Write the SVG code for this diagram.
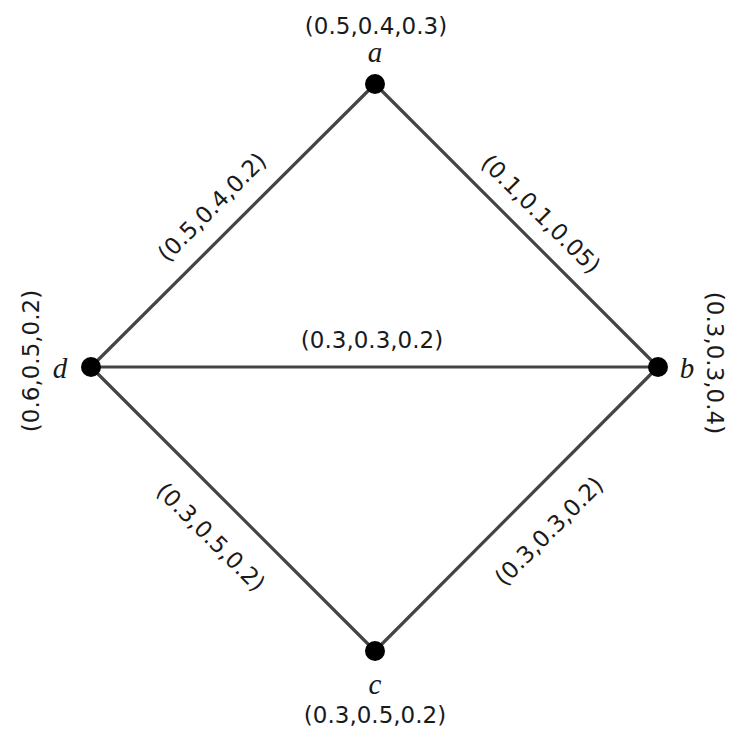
<svg xmlns="http://www.w3.org/2000/svg" width="729" height="731" viewBox="0 0 729 731">
<style>
.e{stroke:#444;stroke-width:3.2;fill:none}
.n{fill:#000}
.t{font-family:"DejaVu Sans",sans-serif;font-size:23px;fill:#1a1a1a;text-anchor:middle}
.v{font-family:"Liberation Serif",serif;font-style:italic;font-size:29px;fill:#1a1a1a;text-anchor:middle}
</style>
<rect width="729" height="731" fill="#fff"/>
<g id="edges">
<line class="e" x1="375" y1="84" x2="91" y2="367"/>
<line class="e" x1="375" y1="84" x2="658" y2="367"/>
<line class="e" x1="91" y1="367" x2="658" y2="367"/>
<line class="e" x1="91" y1="367" x2="375" y2="651"/>
<line class="e" x1="658" y1="367" x2="375" y2="651"/>
<text class="t" transform="translate(212,207) rotate(-45)" y="8">(0.5,0.4,0.2)</text>
<text class="t" transform="translate(541,214) rotate(45)" y="8">(0.1,0.1,0.05)</text>
<text class="t" x="372" y="348">(0.3,0.3,0.2)</text>
<text class="t" transform="translate(211,537) rotate(45)" y="8">(0.3,0.5,0.2)</text>
<text class="t" transform="translate(549,531) rotate(-45)" y="8">(0.3,0.3,0.2)</text>
</g>
<g id="a">
<circle class="n" cx="375" cy="84" r="10"/>
<text class="v" x="375" y="62">a</text>
<text class="t" x="376" y="34">(0.5,0.4,0.3)</text>
</g>
<g id="b">
<circle class="n" cx="658" cy="367" r="10"/>
<text class="v" x="687" y="378">b</text>
<text class="t" transform="translate(715,363) rotate(90)" y="8">(0.3,0.3,0.4)</text>
</g>
<g id="c">
<circle class="n" cx="375" cy="651" r="10"/>
<text class="v" x="375" y="694">c</text>
<text class="t" x="375" y="723">(0.3,0.5,0.2)</text>
</g>
<g id="d">
<circle class="n" cx="91" cy="367" r="10"/>
<text class="v" x="60" y="378">d</text>
<text class="t" transform="translate(31,361) rotate(-90)" y="8">(0.6,0.5,0.2)</text>
</g>
</svg>
